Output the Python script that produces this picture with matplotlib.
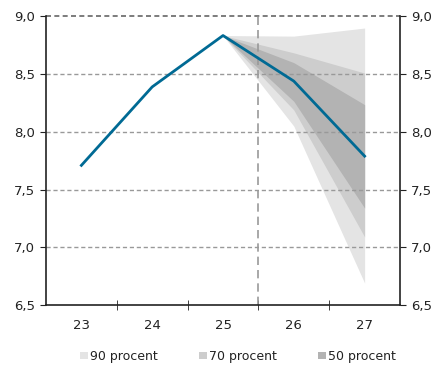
import matplotlib
matplotlib.use("Agg")
import matplotlib.pyplot as plt
from matplotlib.patches import Patch
from matplotlib.ticker import FuncFormatter

years = [23, 24, 25, 26, 27]
central = [7.71, 8.39, 8.835, 8.44, 7.79]

band_x = [25, 26, 27]
p90_lo = [8.835, 8.05, 6.69]
p90_hi = [8.835, 8.83, 8.90]
p70_lo = [8.835, 8.19, 7.09]
p70_hi = [8.835, 8.685, 8.51]
p50_lo = [8.835, 8.265, 7.34]
p50_hi = [8.835, 8.60, 8.236]

labels = ["90 procent", "70 procent", "50 procent"]
colors = ["#e4e4e4", "#cdcdcd", "#b3b3b3"]

fig = plt.figure(figsize=(4.43, 3.65), dpi=100)
ax = fig.add_axes([0.1038, 0.1644, 0.7992, 0.7904])

ax.fill_between(band_x, p90_lo, p90_hi, color=colors[0], lw=0, zorder=1)
ax.fill_between(band_x, p70_lo, p70_hi, color=colors[1], lw=0, zorder=2)
ax.fill_between(band_x, p50_lo, p50_hi, color=colors[2], lw=0, zorder=3)

for yv in [7.0, 7.5, 8.0, 8.5]:
    ax.axhline(yv, color="#999999", lw=1, ls=(0, (3, 2)), zorder=4)
ax.axhline(9.0, color="#666666", lw=1.2, ls=(0, (3, 2)), zorder=4, clip_on=False)
ax.axvline(25.5, color="#999999", lw=1.2, ls=(0, (5, 3)), zorder=4)

ax.plot(years, central, color="#006a94", lw=2, zorder=6)

ax.set_xlim(22.5, 27.5)
ax.set_ylim(6.5, 9.0)
ax.set_yticks([6.5, 7.0, 7.5, 8.0, 8.5, 9.0])
ax.yaxis.set_major_formatter(FuncFormatter(lambda v, p: f"{v:.1f}".replace(".", ",")))
ax.set_xticks(years)
ax.set_xticks([23.5, 24.5, 25.5, 26.5], minor=True)
ax.tick_params(axis="x", which="major", length=0, pad=10, labelsize=9.5, colors="#222222")
ax.tick_params(axis="x", which="minor", length=7, direction="inout", color="#222222")
ax.tick_params(axis="y", which="major", length=4, direction="out", right=True,
               labelright=True, labelsize=9.5, colors="#222222", pad=4)
ax.tick_params(axis="both", labelcolor="#222222")

ax.spines["top"].set_visible(False)
for s in ["left", "right", "bottom"]:
    ax.spines[s].set_color("#222222")
    ax.spines[s].set_linewidth(1.2)
    ax.spines[s].set_zorder(7)

handles = [Patch(facecolor=c, edgecolor="none") for c in colors]
fig.legend(handles, labels, loc="lower center", bbox_to_anchor=(0.538, -0.025), ncol=3,
           frameon=False, fontsize=9, handlelength=0.6, handleheight=0.6,
           handletextpad=0.2, columnspacing=3.3, labelcolor="#222222")

fig.savefig("out.png", dpi=100)
